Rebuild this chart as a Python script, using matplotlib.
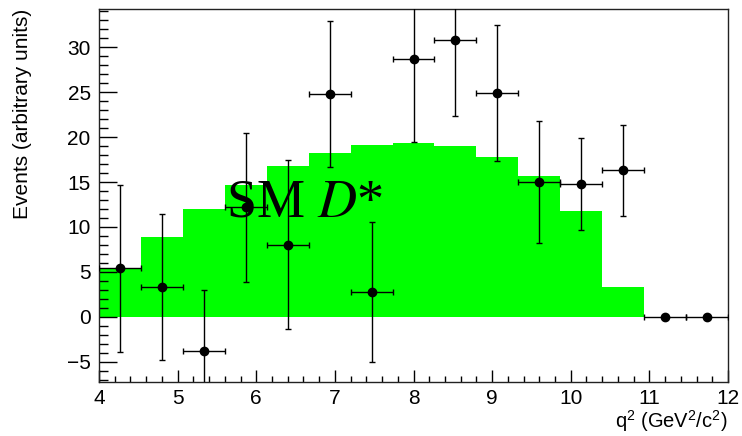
import numpy as np
import matplotlib
matplotlib.use("Agg")
import matplotlib.pyplot as plt
from matplotlib.ticker import MultipleLocator

# Data
bin_edges = np.linspace(4, 12, 16)
sm_dstar = [5.4, 8.9, 12.0, 14.7, 16.8, 18.2, 19.1, 19.4, 19.0, 17.8, 15.7, 11.8, 3.3, 0.0, 0.0]
data_vals = [5.4, 3.3, -3.8, 12.2, 8.0, 24.8, 2.7, 28.7, 30.8, 24.9, 15.0, 14.8, 16.3, 0.0, 0.0]
data_errs = [9.3, 8.1, 6.8, 8.3, 9.4, 8.1, 7.8, 9.2, 8.5, 7.6, 6.8, 5.1, 5.1, 0.0, 0.0]

centers = 0.5 * (bin_edges[:-1] + bin_edges[1:])
halfw = 0.5 * np.diff(bin_edges)

plt.rcParams['font.family'] = ['Liberation Sans', 'DejaVu Sans']
plt.rcParams['mathtext.fontset'] = 'custom'
plt.rcParams['mathtext.rm'] = 'Liberation Sans'
plt.rcParams['mathtext.it'] = 'Liberation Sans:italic'

fig = plt.figure(figsize=(7.42, 4.36), dpi=100)
ax = fig.add_axes([99/742, 1 - 381.7/436, (728 - 99)/742, (381.7 - 9)/436])

ax.stairs(sm_dstar, bin_edges, fill=True, color='#00ff00', zorder=1)

ax.errorbar(centers, data_vals, xerr=halfw, yerr=data_errs, fmt='o', color='black',
            ms=6, elinewidth=1.0, capsize=2, capthick=1.0, zorder=3)

ax.text(5.62, 11.2, r'SM $D$*', fontsize=39, color='black', zorder=4,
        family=['Liberation Serif'], math_fontfamily='stix')

ax.set_xlim(4, 12)
ax.set_ylim(-7.24, 34.27)

ax.xaxis.set_major_locator(MultipleLocator(1))
ax.xaxis.set_minor_locator(MultipleLocator(0.2))
ax.yaxis.set_major_locator(MultipleLocator(5))
ax.yaxis.set_minor_locator(MultipleLocator(1))

ax.tick_params(axis='both', which='both', direction='in', top=False, right=False,
               labelsize=15, width=1.0, colors='black')
ax.tick_params(axis='y', which='major', length=13, pad=6)
ax.tick_params(axis='y', which='minor', length=6.5)
ax.tick_params(axis='x', which='major', length=8.6, pad=5)
ax.tick_params(axis='x', which='minor', length=4.3)

for s in ax.spines.values():
    s.set_linewidth(1.0)
    s.set_color('#222222')

fig.text(728/742, 1 - 421/436, r'q$^{2}$ (GeV$^{2}$/c$^{2}$)', ha='right', va='center',
         fontsize=14.5)
fig.text(23/742, 1 - 9/436, 'Events (arbitrary units)', ha='center', va='top',
         rotation=90, fontsize=15)

fig.savefig('out.png', dpi=100)
